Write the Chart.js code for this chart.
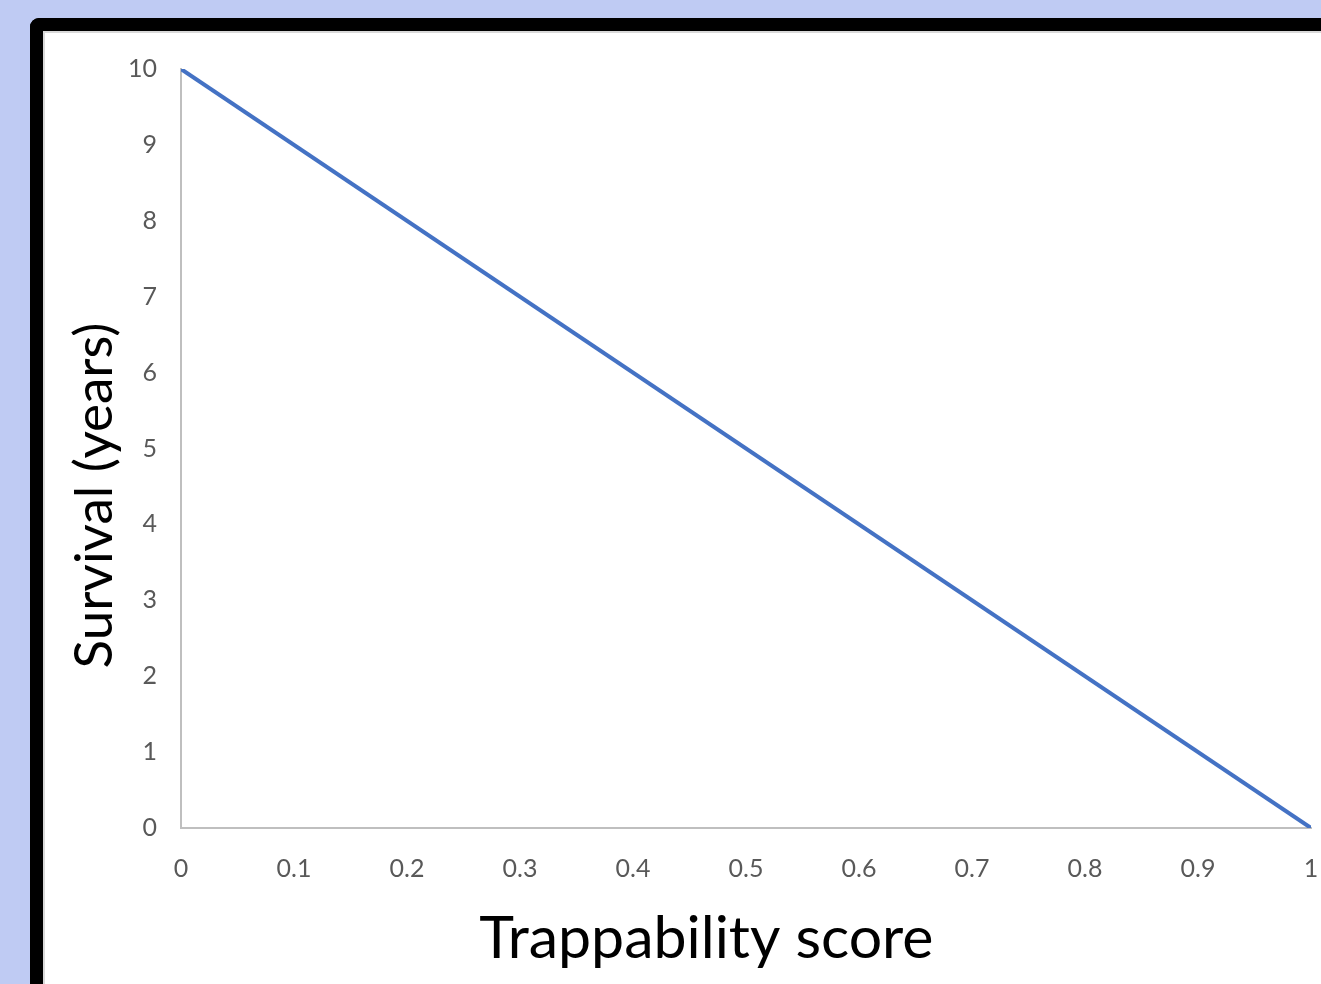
<!DOCTYPE html>
<html>
<head>
<meta charset="utf-8">
<script src="https://cdn.jsdelivr.net/npm/chart.js@4.4.1/dist/chart.umd.min.js"></script>
<style>
  html, body { margin: 0; padding: 0; width: 1321px; height: 984px; overflow: hidden; background: #BFCBF3; }
  #frame { position: absolute; left: 30px; top: 18px; width: 1400px; height: 1100px;
           border-left: 13px solid #000; border-top: 13px solid #000; border-top-left-radius: 9px;
           background: #fff; box-sizing: border-box; }
  #inner { position: absolute; left: 0; top: 0; right: 0; bottom: 0;
           border-left: 2px solid #D9D9D9; border-top: 2px solid #D9D9D9; }
  #wrap { position: absolute; left: 0; top: 0; width: 1321px; height: 984px; }
</style>
</head>
<body>
<div id="frame"><div id="inner"></div></div>
<div id="wrap"><canvas id="c" width="1321" height="984"></canvas></div>
<script>
const trappability = [0, 1];
const survival = [10, 0];
const xTickLabels = ['0', '0.1', '0.2', '0.3', '0.4', '0.5', '0.6', '0.7', '0.8', '0.9', '1'];
const yTickLabels = ['0', '1', '2', '3', '4', '5', '6', '7', '8', '9', '10'];
const xTitle = 'Trappability score';
const yTitle = 'Survival (years)';

const points = trappability.map((x, i) => ({ x: x, y: survival[i] }));

const axisTitles = {
  id: 'axisTitles',
  afterDraw(chart) {
    const ctx = chart.ctx;
    const ca = chart.chartArea;
    ctx.save();
    ctx.fillStyle = '#000';
    ctx.textAlign = 'center';
    ctx.textBaseline = 'alphabetic';
    ctx.font = '59px Lato';
    ctx.fillText(xTitle, ca.left + (ca.right - ca.left) * 0.465, 958);
    ctx.translate(112, ca.top + (ca.bottom - ca.top) * 0.562);
    ctx.rotate(-Math.PI / 2);
    ctx.font = '53px Lato';
    ctx.fillText(yTitle, 0, 0);
    ctx.restore();
  }
};

new Chart(document.getElementById('c'), {
  type: 'line',
  data: {
    datasets: [{
      data: points,
      borderColor: '#4472C4',
      borderWidth: 4,
      pointRadius: 0,
      fill: false,
      tension: 0
    }]
  },
  plugins: [axisTitles],
  options: {
    responsive: false,
    animation: false,
    layout: { padding: { left: 60, top: 69, right: 10, bottom: 0 } },
    plugins: { legend: { display: false }, tooltip: { enabled: false } },
    scales: {
      x: {
        type: 'linear',
        min: 0, max: 1,
        grid: { drawOnChartArea: false, drawTicks: false },
        border: { display: true, color: '#BFBFBF', width: 2 },
        ticks: {
          stepSize: 0.1,
          padding: 26,
          color: '#595959',
          font: { family: 'Lato', size: 25 },
          maxRotation: 0,
          autoSkip: false,
          callback: (v, i) => xTickLabels[i]
        },
        title: { display: false, text: xTitle },
        afterFit: s => { s.height = 984 - 828; s.paddingLeft = 0; s.paddingRight = 0; }
      },
      y: {
        type: 'linear',
        min: 0, max: 10,
        grid: { drawOnChartArea: false, drawTicks: false },
        border: { display: true, color: '#BFBFBF', width: 2 },
        ticks: {
          stepSize: 1,
          padding: 24,
          color: '#595959',
          font: { family: 'Lato', size: 25 },
          callback: (v, i) => yTickLabels[i]
        },
        title: { display: false, text: yTitle },
        afterFit: s => { s.width = 181 - 60; s.paddingTop = 0; s.paddingBottom = 0; }
      }
    }
  }
});
</script>
</body>
</html>
